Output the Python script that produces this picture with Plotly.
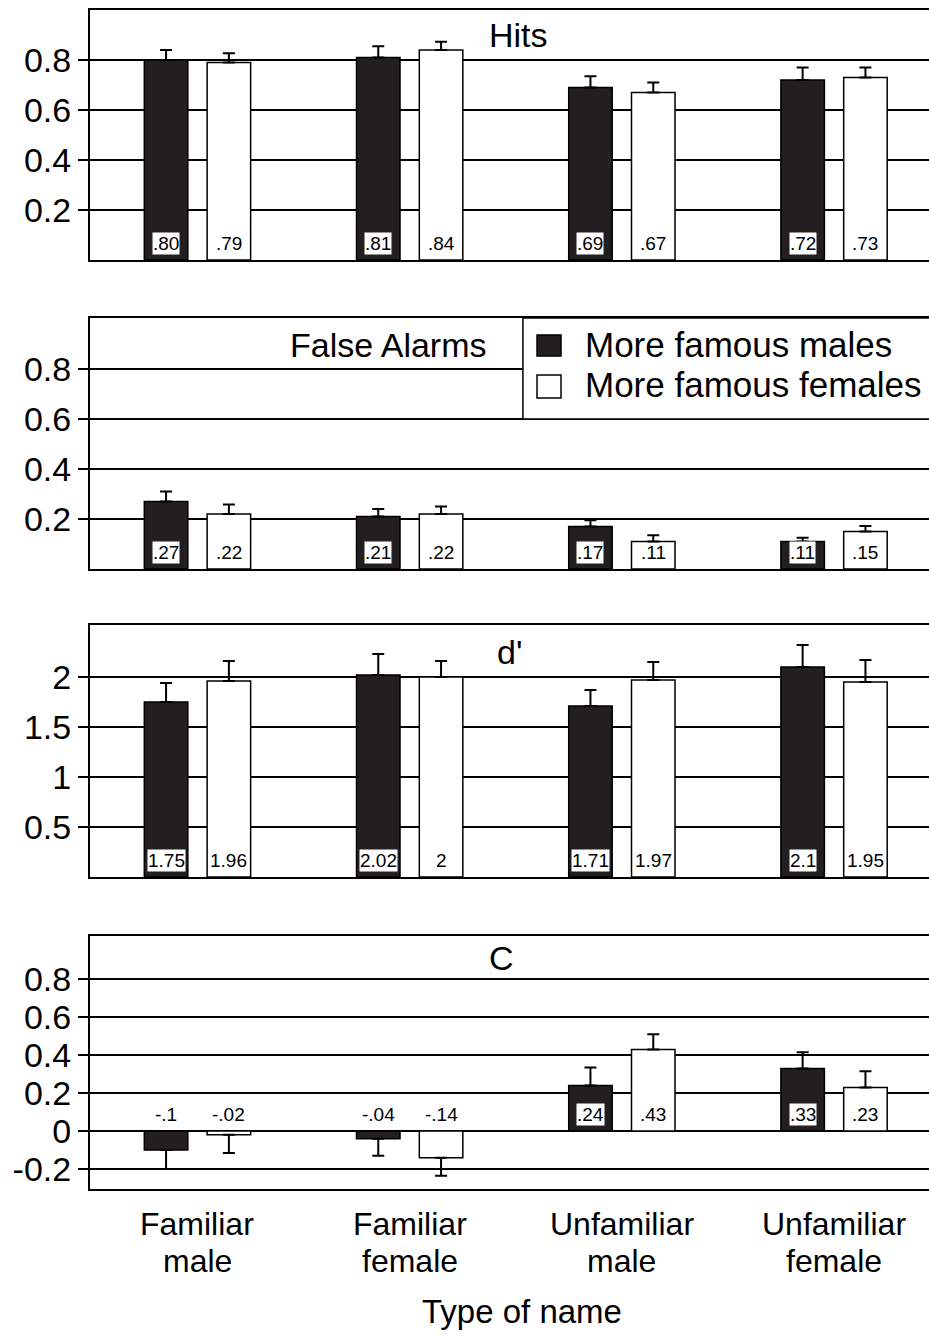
import plotly.graph_objects as go

# ---------------- data ----------------
categories = ["Familiar male", "Familiar female", "Unfamiliar male", "Unfamiliar female"]
series_names = ["More famous males", "More famous females"]
panel_titles = ["Hits", "False Alarms", "d'", "C"]
x_title = "Type of name"

hits_males = [0.80, 0.81, 0.69, 0.72]
hits_females = [0.79, 0.84, 0.67, 0.73]
hits_err_males = [0.04, 0.045, 0.045, 0.05]
hits_err_females = [0.037, 0.033, 0.04, 0.04]
hits_lbl_males = [".80", ".81", ".69", ".72"]
hits_lbl_females = [".79", ".84", ".67", ".73"]

fa_males = [0.27, 0.21, 0.17, 0.11]
fa_females = [0.22, 0.22, 0.11, 0.15]
fa_err_males = [0.04, 0.03, 0.025, 0.015]
fa_err_females = [0.038, 0.03, 0.025, 0.022]
fa_lbl_males = [".27", ".21", ".17", ".11"]
fa_lbl_females = [".22", ".22", ".11", ".15"]

dp_males = [1.75, 2.02, 1.71, 2.10]
dp_females = [1.96, 2.00, 1.97, 1.95]
dp_err_males = [0.19, 0.21, 0.16, 0.22]
dp_err_females = [0.20, 0.16, 0.18, 0.22]
dp_lbl_males = ["1.75", "2.02", "1.71", "2.1"]
dp_lbl_females = ["1.96", "2", "1.97", "1.95"]

c_males = [-0.10, -0.04, 0.24, 0.33]
c_females = [-0.02, -0.14, 0.43, 0.23]
c_err_males = [0.10, 0.09, 0.095, 0.085]
c_err_females = [0.095, 0.095, 0.08, 0.085]
c_lbl_males = ["-.1", "-.04", ".24", ".33"]
c_lbl_females = ["-.02", "-.14", ".43", ".23"]

hits_ticks = [0.2, 0.4, 0.6, 0.8]
hits_ticktext = ["0.2", "0.4", "0.6", "0.8"]
fa_ticks = [0.2, 0.4, 0.6, 0.8]
fa_ticktext = ["0.2", "0.4", "0.6", "0.8"]
dp_ticks = [0.5, 1, 1.5, 2]
dp_ticktext = ["0.5", "1", "1.5", "2"]
c_ticks = [-0.2, 0, 0.2, 0.4, 0.6, 0.8]
c_ticktext = ["-0.2", "0", "0.2", "0.4", "0.6", "0.8"]

# ---------------- style ----------------
FONT = "Liberation Sans, Arial, Helvetica, sans-serif"
DARK = "#231f20"
BAR_W = 0.205
OFF_M = -0.25
OFF_F = 0.046

panels = [
    dict(m=hits_males, f=hits_females, em=hits_err_males, ef=hits_err_females,
         lm=hits_lbl_males, lf=hits_lbl_females, tv=hits_ticks, tt=hits_ticktext,
         rng=[0, 1.0], dom=[0.7880, 1.0], title_xy=(0.5113, 0.90)),
    dict(m=fa_males, f=fa_females, em=fa_err_males, ef=fa_err_females,
         lm=fa_lbl_males, lf=fa_lbl_females, tv=fa_ticks, tt=fa_ticktext,
         rng=[0, 1.004], dom=[0.5259, 0.7388], title_xy=(0.3552, 0.896)),
    dict(m=dp_males, f=dp_females, em=dp_err_males, ef=dp_err_females,
         lm=dp_lbl_males, lf=dp_lbl_females, tv=dp_ticks, tt=dp_ticktext,
         rng=[0, 2.52], dom=[0.2646, 0.4784], title_xy=(0.5, 2.25)),
    dict(m=c_males, f=c_females, em=c_err_males, ef=c_err_females,
         lm=c_lbl_males, lf=c_lbl_females, tv=c_ticks, tt=c_ticktext,
         rng=[-0.305, 1.027], dom=[0.0, 0.2146], title_xy=(0.491, 0.909)),
]

xs = list(range(len(categories)))
fig = go.Figure()
annotations = []
shapes = []
layout_axes = {}

for i, p in enumerate(panels, start=1):
    xa = "x" if i == 1 else f"x{i}"
    ya = "y" if i == 1 else f"y{i}"
    for vals, errs, lbls, off, fill, name in [
        (p["m"], p["em"], p["lm"], OFF_M, DARK, series_names[0]),
        (p["f"], p["ef"], p["lf"], OFF_F, "white", series_names[1]),
    ]:
        plus = [e if v >= 0 else 0 for v, e in zip(vals, errs)]
        minus = [0 if v >= 0 else e for v, e in zip(vals, errs)]
        fig.add_trace(go.Bar(
            x=xs, y=vals, width=BAR_W, offset=off, name=name, showlegend=False,
            marker=dict(color=fill, line=dict(color="black", width=1.5)),
            error_y=dict(type="data", symmetric=False, array=plus, arrayminus=minus,
                         color="black", thickness=2, width=6),
            xaxis=xa, yaxis=ya, hoverinfo="skip",
        ))
        for x, lbl in zip(xs, lbls):
            annotations.append(dict(
                x=x + off + BAR_W / 2, y=0, xref=xa, yref=ya, text=lbl,
                showarrow=False, yanchor="bottom", yshift=5,
                font=dict(family=FONT, size=19, color="black"),
                bgcolor="white" if fill == DARK else "rgba(0,0,0,0)", borderpad=0,
            ))
    tx, ty = p["title_xy"]
    annotations.append(dict(
        x=tx, y=ty, xref="paper", yref=ya, text=panel_titles[i - 1], showarrow=False,
        xanchor="center", yanchor="middle", font=dict(family=FONT, size=34, color="black")))

    layout_axes["xaxis" if i == 1 else f"xaxis{i}"] = dict(
        domain=[0, 1], range=[-0.506, 3.448], anchor=ya, showticklabels=False,
        showgrid=False, zeroline=False, showline=True, mirror=True,
        linecolor="black", linewidth=2, ticks="", fixedrange=True)
    layout_axes["yaxis" if i == 1 else f"yaxis{i}"] = dict(
        domain=p["dom"], range=p["rng"], anchor=xa, tickmode="array",
        tickvals=p["tv"], ticktext=p["tt"], ticks="outside", ticklen=10,
        tickwidth=2, tickcolor="black", showgrid=True, gridcolor="black",
        gridwidth=2, zeroline=False, showline=True, linecolor="black",
        linewidth=2, ticklabelstandoff=0, fixedrange=True,
        tickfont=dict(family=FONT, size=34, color="black"))

# legend box in the False Alarms panel
shapes.append(dict(type="rect", xref="paper", yref="y2", x0=0.516, x1=1.05,
                   y0=0.6, y1=1.004, fillcolor="white",
                   line=dict(color="black", width=1.5), layer="above"))
for k, (fill, y0, y1, ty) in enumerate([(DARK, 0.852, 0.936, 0.896),
                                        ("white", 0.684, 0.776, 0.736)]):
    shapes.append(dict(type="rect", xref="paper", yref="y2", x0=0.5328, x1=0.5614,
                       y0=y0, y1=y1, fillcolor=fill,
                       line=dict(color="black", width=1.5), layer="above"))
    annotations.append(dict(x=0.5876, y=ty, xref="paper", yref="y2",
                            text=series_names[k], showarrow=False,
                            xanchor="left", yanchor="middle",
                            font=dict(family=FONT, size=35, color="black")))

# category labels (two lines each)
for x, cat in zip(xs, categories):
    first, second = cat.split(" ", 1)
    annotations.append(dict(x=x, y=0, xref="x4", yref="paper", text=first,
                            showarrow=False, xanchor="center", yanchor="middle",
                            yshift=-35, font=dict(family=FONT, size=32, color="black")))
    annotations.append(dict(x=x, y=0, xref="x4", yref="paper", text=second,
                            showarrow=False, xanchor="center", yanchor="middle",
                            yshift=-72, font=dict(family=FONT, size=32, color="black")))
annotations.append(dict(x=0.515, y=0, xref="paper", yref="paper", text=x_title,
                        showarrow=False, xanchor="center", yanchor="middle",
                        yshift=-122, font=dict(family=FONT, size=33, color="black")))

fig.update_layout(
    width=929, height=1338,
    margin=dict(l=90, r=0, t=10, b=149),
    paper_bgcolor="white", plot_bgcolor="white",
    barmode="overlay", showlegend=False, hovermode=False,
    annotations=annotations, shapes=shapes,
    font=dict(family=FONT, color="black"),
    **layout_axes,
)

fig.write_html("out.html", config={"displayModeBar": False, "staticPlot": True},
               post_script="document.body.style.margin='0';document.body.style.padding='0';")
